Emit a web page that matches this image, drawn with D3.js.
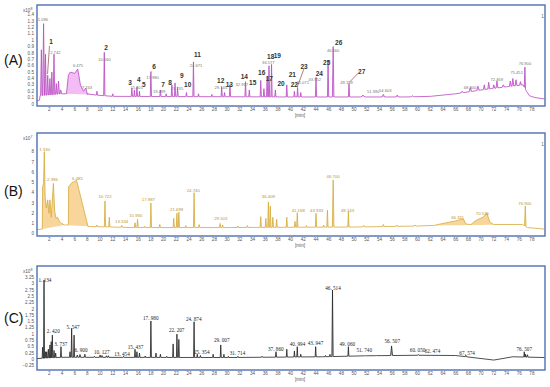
<!DOCTYPE html>
<html>
<head>
<meta charset="utf-8">
<script src="https://cdn.jsdelivr.net/npm/d3@7"></script>
<style>
body { margin: 0; background: #fff; }
svg { display: block; }
</style>
</head>
<body>
<script>
// ---- shared axis values ----
var xTicks = d3.range(2, 79, 2);

// ---- (A) ----
var aYTicks = [0, 0.1, 0.2, 0.3, 0.4, 0.5, 0.6, 0.7, 0.8, 0.9, 1, 1.1, 1.2, 1.3, 1.4];
var aBase = [[0,0.05],[0.45,0.06],[0.55,0.13],[4,0.16],[8,0.15],[12,0.12],[40,0.11],[58,0.11],[62,0.12],[66,0.16],[70,0.22],[74,0.27],[76.6,0.3],[77.15,0.2],[77.6,0.13],[78.5,0.1],[80,0.08]];
// [retention time, apex, half width]
var aPeaks = [[0.75,0.85,0.12],[1.1,1.26,0.15],[1.4,0.78,0.12],[1.75,0.45,0.12],[2.1,0.4,0.12],[2.4,0.5,0.1],[2.74,0.78,0.12],[3.1,0.32,0.12],[3.45,0.36,0.15],[3.8,0.22,0.15],
  [9.5,0.2,0.1],[10.66,0.81,0.1],[12.0,0.16,0.1],[15.0,0.25,0.1],[15.4,0.22,0.08],[15.8,0.27,0.1],[16.2,0.2,0.08],[18.0,0.51,0.1],[19.5,0.22,0.1],[20.4,0.16,0.1],
  [21.3,0.3,0.1],[21.8,0.33,0.1],[22.2,0.26,0.1],[23.6,0.18,0.1],[24.7,0.66,0.1],[25.5,0.16,0.1],[27.6,0.15,0.1],[29.15,0.27,0.1],[29.6,0.18,0.1],[30.45,0.3,0.1],
  [32.9,0.35,0.1],[33.5,0.22,0.1],[35.3,0.37,0.1],[35.8,0.24,0.1],[36.3,0.42,0.1],[36.6,0.6,0.1],[37.0,0.62,0.1],[37.6,0.22,0.1],[39.4,0.3,0.1],[40.6,0.2,0.1],
  [41.1,0.26,0.1],[41.6,0.18,0.1],[44.0,0.42,0.1],[45.9,0.69,0.1],[46.7,0.9,0.12],[49.2,0.32,0.1],[51.4,0.14,0.3],[54.6,0.15,0.2],[56.8,0.14,0.2],[59.2,0.13,0.2],
  [67.0,0.2,0.2],[68.3,0.26,0.2],[69.5,0.28,0.2],[70.5,0.3,0.15],[71.2,0.34,0.15],[72.0,0.3,0.15],[72.5,0.36,0.15],[73.5,0.3,0.2],[74.6,0.36,0.15],[75.0,0.4,0.15],
  [75.5,0.38,0.15],[76.2,0.35,0.15],[76.9,0.58,0.1]];
var aHumps = [[[4.7,0.16],[5.0,0.45],[5.3,0.5],[6.0,0.48],[6.475,0.55],[6.9,0.3],[7.4,0.2],[7.75,0.25],[8.0,0.16]]];
var aNumbers = [["1",2.27,0.97],["2",10.93,0.88],["3",14.71,0.33],["4",16.08,0.38],["5",16.87,0.31],["6",18.49,0.58],["7",19.91,0.31],["8",21.01,0.33],["9",22.85,0.45],
  ["10",23.8,0.31],["11",25.31,0.77],["12",28.99,0.36],["13",30.35,0.31],["14",32.71,0.42],["15",34.03,0.34],["16",35.45,0.49],["17",36.65,0.4],["18",36.87,0.74],
  ["19",37.91,0.76],["20",38.49,0.32],["21",40.27,0.46],["22",40.58,0.3],["23",42.11,0.58],["24",44.52,0.47],["25",45.69,0.65],["26",47.57,0.96],["27",51.2,0.51]];
var aLeaders = [[2.03,0.91,1.72,0.47],[42.1,0.55,41.06,0.27],[50.6,0.48,49.35,0.35]];
var aRtLabels = [["1.096",1.0,1.32],["2.742",2.95,0.81],["6.475",6.52,0.6],["7.743",7.94,0.25],["10.660",10.69,0.7],["15.401",15.76,0.26],["17.980",18.25,0.41],
  ["19.499",19.3,0.2],["21.735",22.1,0.24],["24.671",25.1,0.61],["29.145",29.0,0.26],["32.917",32.3,0.3],["36.577",36.5,0.65],["41.071",41.9,0.33],
  ["43.952",43.8,0.39],["46.660",46.7,0.83],["49.189",48.8,0.33],["51.390",53.0,0.19],["54.603",54.9,0.21],["68.300",68.25,0.26],["72.469",72.45,0.39],
  ["75.451",75.6,0.49],["76.900",76.9,0.64]];

// ---- (B) ----
var bYTicks = [0, 1, 2, 3, 4, 5, 6, 7, 8];
var bBase = [[0,0.4],[0.85,0.45],[4.5,0.85],[8.5,0.7],[15,0.6],[30,0.6],[50,0.65],[60,0.75],[62,0.8],[76.5,0.9],[77.3,0.6],[80,0.45]];
var bPeaks = [[9.5,0.85,0.1],[10.77,3.2,0.1],[11.45,1.6,0.1],[13.4,0.8,0.15],[15.5,1.07,0.1],[15.9,1.4,0.1],[17.0,0.75,0.1],[18.0,3.0,0.1],[19.4,0.9,0.1],
  [21.6,1.5,0.1],[22.1,2.0,0.1],[22.4,2.1,0.1],[23.5,0.8,0.1],[24.8,4.0,0.1],[25.6,0.9,0.1],[28.9,1.0,0.1],[29.3,0.85,0.1],[31.7,0.75,0.1],[33.2,0.8,0.1],
  [35.3,1.66,0.1],[36.1,1.5,0.1],[36.5,3.1,0.1],[36.8,2.7,0.1],[37.2,1.6,0.1],[37.8,1.4,0.1],[39.4,1.6,0.1],[40.7,1.2,0.1],[41.05,2.05,0.1],[42.5,0.8,0.1],
  [44.0,2.0,0.1],[45.2,0.85,0.1],[45.8,2.3,0.1],[46.7,5.24,0.12],[49.1,2.15,0.1],[51.5,0.8,0.2],[54.6,0.9,0.15],[56.7,0.85,0.15],[59.6,0.85,0.15],[76.96,2.7,0.12]];
var bHumps = [
  [[0.9,0.45],[0.95,4.6],[1.1,4.9],[1.21,8.0],[1.35,3.5],[1.55,2.5],[1.75,3.3],[1.95,2.0],[2.1,3.3],[2.3,1.6],[2.64,4.9],[2.85,2.2],[3.05,1.5],[3.3,1.6],[3.6,1.2],[3.95,1.0],[4.4,0.85]],
  [[5.0,0.85],[5.05,4.6],[5.6,5.0],[6.3,5.2],[8.1,0.7]],
  [[62.5,0.8],[64,1.0],[66,1.25],[67.2,1.45],[67.6,0.95],[68.2,0.9]],
  [[68.4,0.9],[69.2,1.3],[70.3,1.6],[70.9,2.0],[71.4,1.1],[72.0,0.9]]];
var bRtLabels = [["1.330",1.27,8.23],["2.396",2.5,5.3],["6.485",6.44,5.4],["10.722",10.77,3.61],["13.334",13.4,1.17],["15.930",15.62,1.73],["17.987",17.6,3.29],
  ["21.699",22.06,2.38],["24.740",24.68,4.17],["29.503",29.0,1.5],["36.409",36.5,3.61],["41.168",41.2,2.24],["43.933",44.1,2.24],["46.700",46.7,5.56],
  ["49.143",48.96,2.31],["66.311",66.3,1.6],["70.536",70.2,1.99],["76.900",76.9,2.9]];

// ---- (C) ----
var cYTicks = [-0.25, 0, 0.25, 0.5, 0.75, 1, 1.25, 1.5, 1.75, 2, 2.25, 2.5, 2.75, 3, 3.25];
var cBase = [[0,0.03],[0.9,0.04],[4,0.08],[30,0.07],[45,0.1],[52,0.14],[60,0.16],[66,0.15],[72,-0.03],[75,0.1],[80,0.07]];
var cPeaks = [[0.95,0.48,0.08],[1.17,3.15,0.08],[1.4,0.3,0.08],[1.6,0.3,0.08],[1.85,0.4,0.08],[2.1,0.57,0.08],[2.3,0.7,0.08],[2.48,0.96,0.08],[2.75,0.35,0.08],
  [3.0,0.25,0.08],[3.84,0.5,0.08],[5.26,0.3,0.08],[5.52,1.23,0.08],[5.9,0.96,0.08],[6.4,0.17,0.1],[6.83,0.19,0.1],[7.6,0.2,0.1],[9.1,0.12,0.1],[10.0,0.17,0.1],
  [10.3,0.15,0.1],[11.0,0.14,0.1],[11.3,0.14,0.1],[13.7,0.12,0.1],[15.5,0.4,0.08],[15.8,0.3,0.08],[16.2,0.25,0.08],[17.1,0.13,0.08],[18.0,1.52,0.08],[18.8,0.25,0.08],
  [19.5,0.2,0.08],[20.5,0.12,0.08],[21.5,0.61,0.08],[22.1,1.0,0.08],[22.4,0.79,0.08],[24.8,1.49,0.08],[25.3,0.2,0.08],[25.8,0.15,0.08],[27.8,0.2,0.08],[29.0,0.57,0.08],
  [29.5,0.2,0.08],[30.2,0.12,0.08],[31.7,0.12,0.1],[35.5,0.12,0.1],[37.7,0.3,0.1],[39.4,0.4,0.08],[40.6,0.33,0.08],[41.05,0.5,0.08],[41.6,0.2,0.08],[43.95,0.5,0.08],
  [45.5,0.15,0.08],[46.2,0.2,0.08],[46.6,2.75,0.1],[49.1,0.5,0.08],[51.7,0.15,0.1],[53.5,0.15,0.1],[55.9,0.53,0.15],[60.1,0.19,0.1],[67.6,0.16,0.1],
  [76.8,0.3,0.08],[77.0,0.2,0.06],[77.3,0.18,0.1]];
var cHumps = [];
var cRtLabels = [["1. 134",1.32,3.12],["2. 420",2.63,1.1],["3. 737",3.81,0.6],["5. 547",5.73,1.29],["6. 900",6.99,0.37],["10. 127",10.25,0.3],["13. 454",13.45,0.21],
  ["15. 437",15.57,0.5],["17. 980",17.98,1.63],["22. 207",22.06,1.16],["24. 874",24.74,1.59],["25. 354",26.0,0.3],["29. 007",29.15,0.74],["31. 714",31.64,0.24],
  ["37. 860",37.67,0.4],["40. 994",41.09,0.61],["43. 947",43.92,0.63],["46. 514",46.68,2.84],["49. 060",48.93,0.61],["51. 740",51.59,0.37],["56. 507",56.0,0.7],
  ["60. 050",60.0,0.37],["62. 474",62.35,0.34],["67. 574",67.8,0.26],["76. 507",76.8,0.4]];

// ---- layout ----
var svg = d3.select('body').append('svg').attr('width', 550).attr('height', 387);

var x = d3.scaleLinear().domain([0, 80]).range([36.6, 544.6]);

var panels = [
  {tag:'(A)', tagY:60, top:5, bottom:106, zeroY:104, topV:1.4, topY:14.7, yTicks:aYTicks, exp:'8',
   base:aBase, peaks:aPeaks, humps:aHumps, labels:aRtLabels, line:'#b64ac0', fill:'#ef9fef', fillOp:0.7,
   labelColor:'#777', labelFont:'Liberation Sans, Arial, sans-serif', labelSize:4.1, marker:true},
  {tag:'(B)', tagY:191, top:133, bottom:236, zeroY:233.7, topV:8, topY:151.7, yTicks:bYTicks, exp:'7',
   base:bBase, peaks:bPeaks, humps:bHumps, labels:bRtLabels, line:'#d6ab3c', fill:'#f4c77a', fillOp:0.75,
   labelColor:'#b8932e', labelFont:'Liberation Sans, Arial, sans-serif', labelSize:4.3, marker:true},
  {tag:'(C)', tagY:318, top:266, bottom:370, zeroY:359.3, topV:3.25, topY:277.4, yTicks:cYTicks, exp:'8',
   base:cBase, peaks:cPeaks, humps:cHumps, labels:cRtLabels, line:'#222', fill:'#999', fillOp:0.6,
   labelColor:'#222', labelFont:'Liberation Serif, Times New Roman, serif', labelSize:5.2, marker:false}
];

panels.forEach(function(p, i) {
  var y = d3.scaleLinear().domain([0, p.topV]).range([p.zeroY, p.topY]);
  var g = svg.append('g');

  // baseline as piecewise linear scale
  var baseFn = d3.scaleLinear()
    .domain(p.base.map(function(d){ return d[0]; }))
    .range(p.base.map(function(d){ return d[1]; }))
    .clamp(true);

  // each peak becomes a small triangle sitting on the baseline
  var features = p.peaks.map(function(pk){
    return [[pk[0] - pk[2], baseFn(pk[0] - pk[2])], [pk[0], pk[1]], [pk[0] + pk[2], baseFn(pk[0] + pk[2])]];
  }).concat(p.humps);
  var windows = features.map(function(f){ return [f[0][0], f[f.length - 1][0]]; });
  var pts = p.base.filter(function(b){
    return !windows.some(function(w){ return b[0] > w[0] && b[0] < w[1]; });
  });
  features.forEach(function(f){ pts = pts.concat(f); });
  pts.sort(function(a, b){ return a[0] - b[0]; });

  var area = d3.area()
    .x(function(d){ return x(d[0]); })
    .y0(function(d){ return y(baseFn(d[0])); })
    .y1(function(d){ return y(d[1]); });
  var line = d3.line()
    .x(function(d){ return x(d[0]); })
    .y(function(d){ return y(d[1]); });

  g.append('path').datum(pts).attr('d', area)
    .attr('fill', p.fill).attr('fill-opacity', p.fillOp);
  g.append('path').datum(pts).attr('d', line)
    .attr('fill', 'none').attr('stroke', p.line).attr('stroke-width', 0.8)
    .attr('stroke-linejoin', 'round');

  // frame
  g.append('rect')
    .attr('x', 37).attr('y', p.top)
    .attr('width', 508).attr('height', p.bottom - p.top)
    .attr('fill', 'none').attr('stroke', '#4f6fb3').attr('stroke-width', 1.4);

  // y ticks
  g.selectAll('.yt').data(p.yTicks).enter().append('text')
    .attr('x', 34).attr('y', function(d){ return y(d); })
    .attr('dy', '0.35em').attr('text-anchor', 'end')
    .style('font', '4.6px Liberation Sans, Arial, sans-serif').style('fill', '#555')
    .text(function(d){ return d3.format('~g')(d); });
  var ex = g.append('text').attr('x', 23).attr('y', p.top + 6.5)
    .style('font', '4.6px Liberation Sans, Arial, sans-serif').style('fill', '#555');
  ex.append('tspan').text('x10');
  ex.append('tspan').attr('dy', -1.8).style('font-size', '3.6px').text(p.exp);

  // x ticks
  g.selectAll('.xt').data(xTicks).enter().append('text')
    .attr('x', function(d){ return x(d); }).attr('y', p.bottom + 5)
    .attr('text-anchor', 'middle')
    .style('font', '4.6px Liberation Sans, Arial, sans-serif').style('fill', '#555')
    .text(function(d){ return d; });
  g.append('text').attr('x', 300).attr('y', p.bottom + 11)
    .attr('text-anchor', 'middle')
    .style('font', '4.6px Liberation Sans, Arial, sans-serif').style('fill', '#555')
    .text('[min]');

  // retention time labels
  g.selectAll('.rt').data(p.labels).enter().append('text')
    .attr('x', function(d){ return x(d[1]); }).attr('y', function(d){ return y(d[2]); })
    .attr('dy', '0.35em').attr('text-anchor', 'middle')
    .style('font-family', p.labelFont).style('font-size', p.labelSize + 'px')
    .style('fill', p.labelColor)
    .text(function(d){ return d[0]; });

  if (p.marker) {
    g.append('text').attr('x', 542.5).attr('y', p.top + 13)
      .attr('text-anchor', 'middle')
      .style('font', '4.5px Liberation Sans, Arial, sans-serif').style('fill', '#666')
      .text('1');
  }

  // panel tag
  g.append('text').attr('x', 4).attr('y', p.tagY).attr('dy', '0.35em')
    .style('font', '14px Liberation Sans, Arial, sans-serif').style('fill', '#111')
    .text(p.tag);

  if (i === 0) {
    g.selectAll('.ld').data(aLeaders).enter().append('line')
      .attr('x1', function(d){ return x(d[0]); }).attr('y1', function(d){ return y(d[1]); })
      .attr('x2', function(d){ return x(d[2]); }).attr('y2', function(d){ return y(d[3]); })
      .attr('stroke', '#7a2a2a').attr('stroke-width', 0.6);
    g.selectAll('.num').data(aNumbers).enter().append('text')
      .attr('x', function(d){ return x(d[1]); }).attr('y', function(d){ return y(d[2]); })
      .attr('dy', '0.35em').attr('text-anchor', 'middle')
      .style('font', 'bold 6.5px Liberation Sans, Arial, sans-serif').style('fill', '#333')
      .text(function(d){ return d[0]; });
  }
});
</script>
</body>
</html>
